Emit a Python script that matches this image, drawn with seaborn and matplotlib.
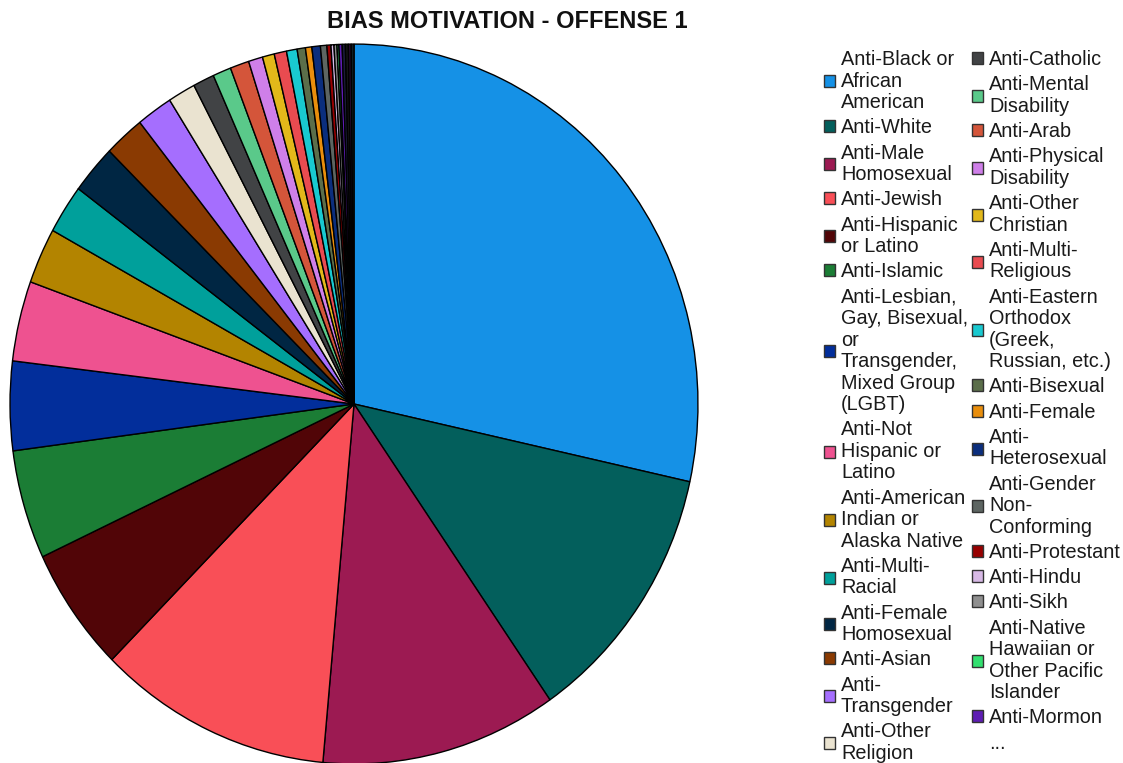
import matplotlib
matplotlib.use("Agg")
import matplotlib.pyplot as plt
from matplotlib.patches import Patch
import seaborn as sns

# Share of offenses by bias motivation (percent), clockwise from 12 o'clock
categories = [
    "Anti-Black or African American", "Anti-White", "Anti-Male Homosexual",
    "Anti-Jewish", "Anti-Hispanic or Latino", "Anti-Islamic",
    "Anti-Lesbian, Gay, Bisexual, or Transgender, Mixed Group (LGBT)",
    "Anti-Not Hispanic or Latino", "Anti-American Indian or Alaska Native",
    "Anti-Multi-Racial", "Anti-Female Homosexual", "Anti-Asian",
    "Anti-Transgender", "Anti-Other Religion", "Anti-Catholic",
    "Anti-Mental Disability", "Anti-Arab", "Anti-Physical Disability",
    "Anti-Other Christian", "Anti-Multi-Religious",
    "Anti-Eastern Orthodox (Greek, Russian, etc.)", "Anti-Bisexual",
    "Anti-Female", "Anti-Heterosexual", "Anti-Gender Non-Conforming",
    "Anti-Protestant", "Anti-Hindu", "Anti-Sikh",
    "Anti-Native Hawaiian or Other Pacific Islander", "Anti-Mormon",
    "Anti-Jehovah's Witness", "Anti-Buddhist", "Anti-Atheism/Agnosticism",
    "Anti-Other Race/Ethnicity/Ancestry",
]
values = [
    28.5, 11.9, 11.1, 11.0, 5.6, 4.9, 4.0, 3.6, 2.5, 2.2, 2.2, 1.9, 1.7,
    1.3, 1.0, 0.86, 0.89, 0.67, 0.56, 0.58, 0.5, 0.39, 0.30, 0.40, 0.30,
    0.19, 0.14, 0.14, 0.09, 0.15, 0.15, 0.14, 0.13, 0.13,
]
colors = [
    "#1591e6", "#035f5c", "#9c1a52", "#f94f57", "#510507", "#1b7d35",
    "#022e9b", "#ee5290", "#b38400", "#00a09b", "#002643", "#8a3a02",
    "#a56efe", "#eae3d0", "#414345", "#5ac98a", "#d4553a", "#cf7fe9",
    "#e2b81a", "#e94b50", "#19c9d0", "#5b6e4a", "#e98e0c", "#0b2e7d",
    "#5d6562", "#970000", "#d7b9e5", "#8f8f8f", "#33e070", "#5e1db3",
    "#1b1b3a", "#151515", "#2a0d33", "#0e1f26",
]

# Wrapped legend text, two columns
legend_col1 = [
    "Anti-Black or\nAfrican\nAmerican", "Anti-White", "Anti-Male\nHomosexual",
    "Anti-Jewish", "Anti-Hispanic\nor Latino", "Anti-Islamic",
    "Anti-Lesbian,\nGay, Bisexual,\nor\nTransgender,\nMixed Group\n(LGBT)",
    "Anti-Not\nHispanic or\nLatino", "Anti-American\nIndian or\nAlaska Native",
    "Anti-Multi-\nRacial", "Anti-Female\nHomosexual", "Anti-Asian",
    "Anti-\nTransgender", "Anti-Other\nReligion",
]
legend_col2 = [
    "Anti-Catholic", "Anti-Mental\nDisability", "Anti-Arab",
    "Anti-Physical\nDisability", "Anti-Other\nChristian", "Anti-Multi-\nReligious",
    "Anti-Eastern\nOrthodox\n(Greek,\nRussian, etc.)", "Anti-Bisexual",
    "Anti-Female", "Anti-\nHeterosexual", "Anti-Gender\nNon-\nConforming",
    "Anti-Protestant", "Anti-Hindu", "Anti-Sikh",
    "Anti-Native\nHawaiian or\nOther Pacific\nIslander", "Anti-Mormon",
]

sns.set_theme(style="white")
plt.rcParams["font.family"] = ["Liberation Sans", "DejaVu Sans"]
palette = sns.color_palette(colors)

W, H = 1123, 763
fig = plt.figure(figsize=(W / 100, H / 100), dpi=100)

# Pie axes placed in pixel terms (slightly taller than wide)
cx, cy, rx, ry = 354, 404, 345, 361
ax = fig.add_axes([(cx - rx) / W, 1 - (cy + ry) / H, 2 * rx / W, 2 * ry / H])
wedges, _ = ax.pie(
    values, colors=palette, startangle=90, counterclock=False, radius=1,
    wedgeprops=dict(edgecolor="black", linewidth=1.0),
)
ax.set_aspect("auto")
ax.set_xlim(-1.003, 1.003)
ax.set_ylim(-1.003, 1.003)
ax.axis("off")

fig.text(507 / W, 1 - 22 / H, "BIAS MOTIVATION - OFFENSE 1",
         ha="center", va="center", fontsize=17, fontweight="bold", color="#111111")

n1 = len(legend_col1)
n2 = len(legend_col2)
handles1 = [Patch(facecolor=palette[i], edgecolor="#333333", linewidth=1.0)
            for i in range(n1)]
handles2 = [Patch(facecolor=palette[n1 + i], edgecolor="#333333", linewidth=1.0)
            for i in range(n2)]
handles2.append(Patch(facecolor="none", edgecolor="none"))
labels2 = legend_col2 + ["..."]

common = dict(
    loc="upper left", frameon=False, fontsize=14.3, borderpad=0,
    handlelength=0.55, handleheight=0.55, handletextpad=0.3,
    labelspacing=0.315, borderaxespad=0, labelcolor="#1a1a1a",
)
legends = []
for handles, labels, x0 in ((handles1, legend_col1, 824), (handles2, labels2, 972)):
    leg = fig.legend(handles, labels, bbox_to_anchor=(x0 / W, 1 - 50 / H), **common)
    for t in leg.get_texts():
        t.set_linespacing(1.167)
    legends.append(leg)

fig.savefig("out.png", dpi=100)
